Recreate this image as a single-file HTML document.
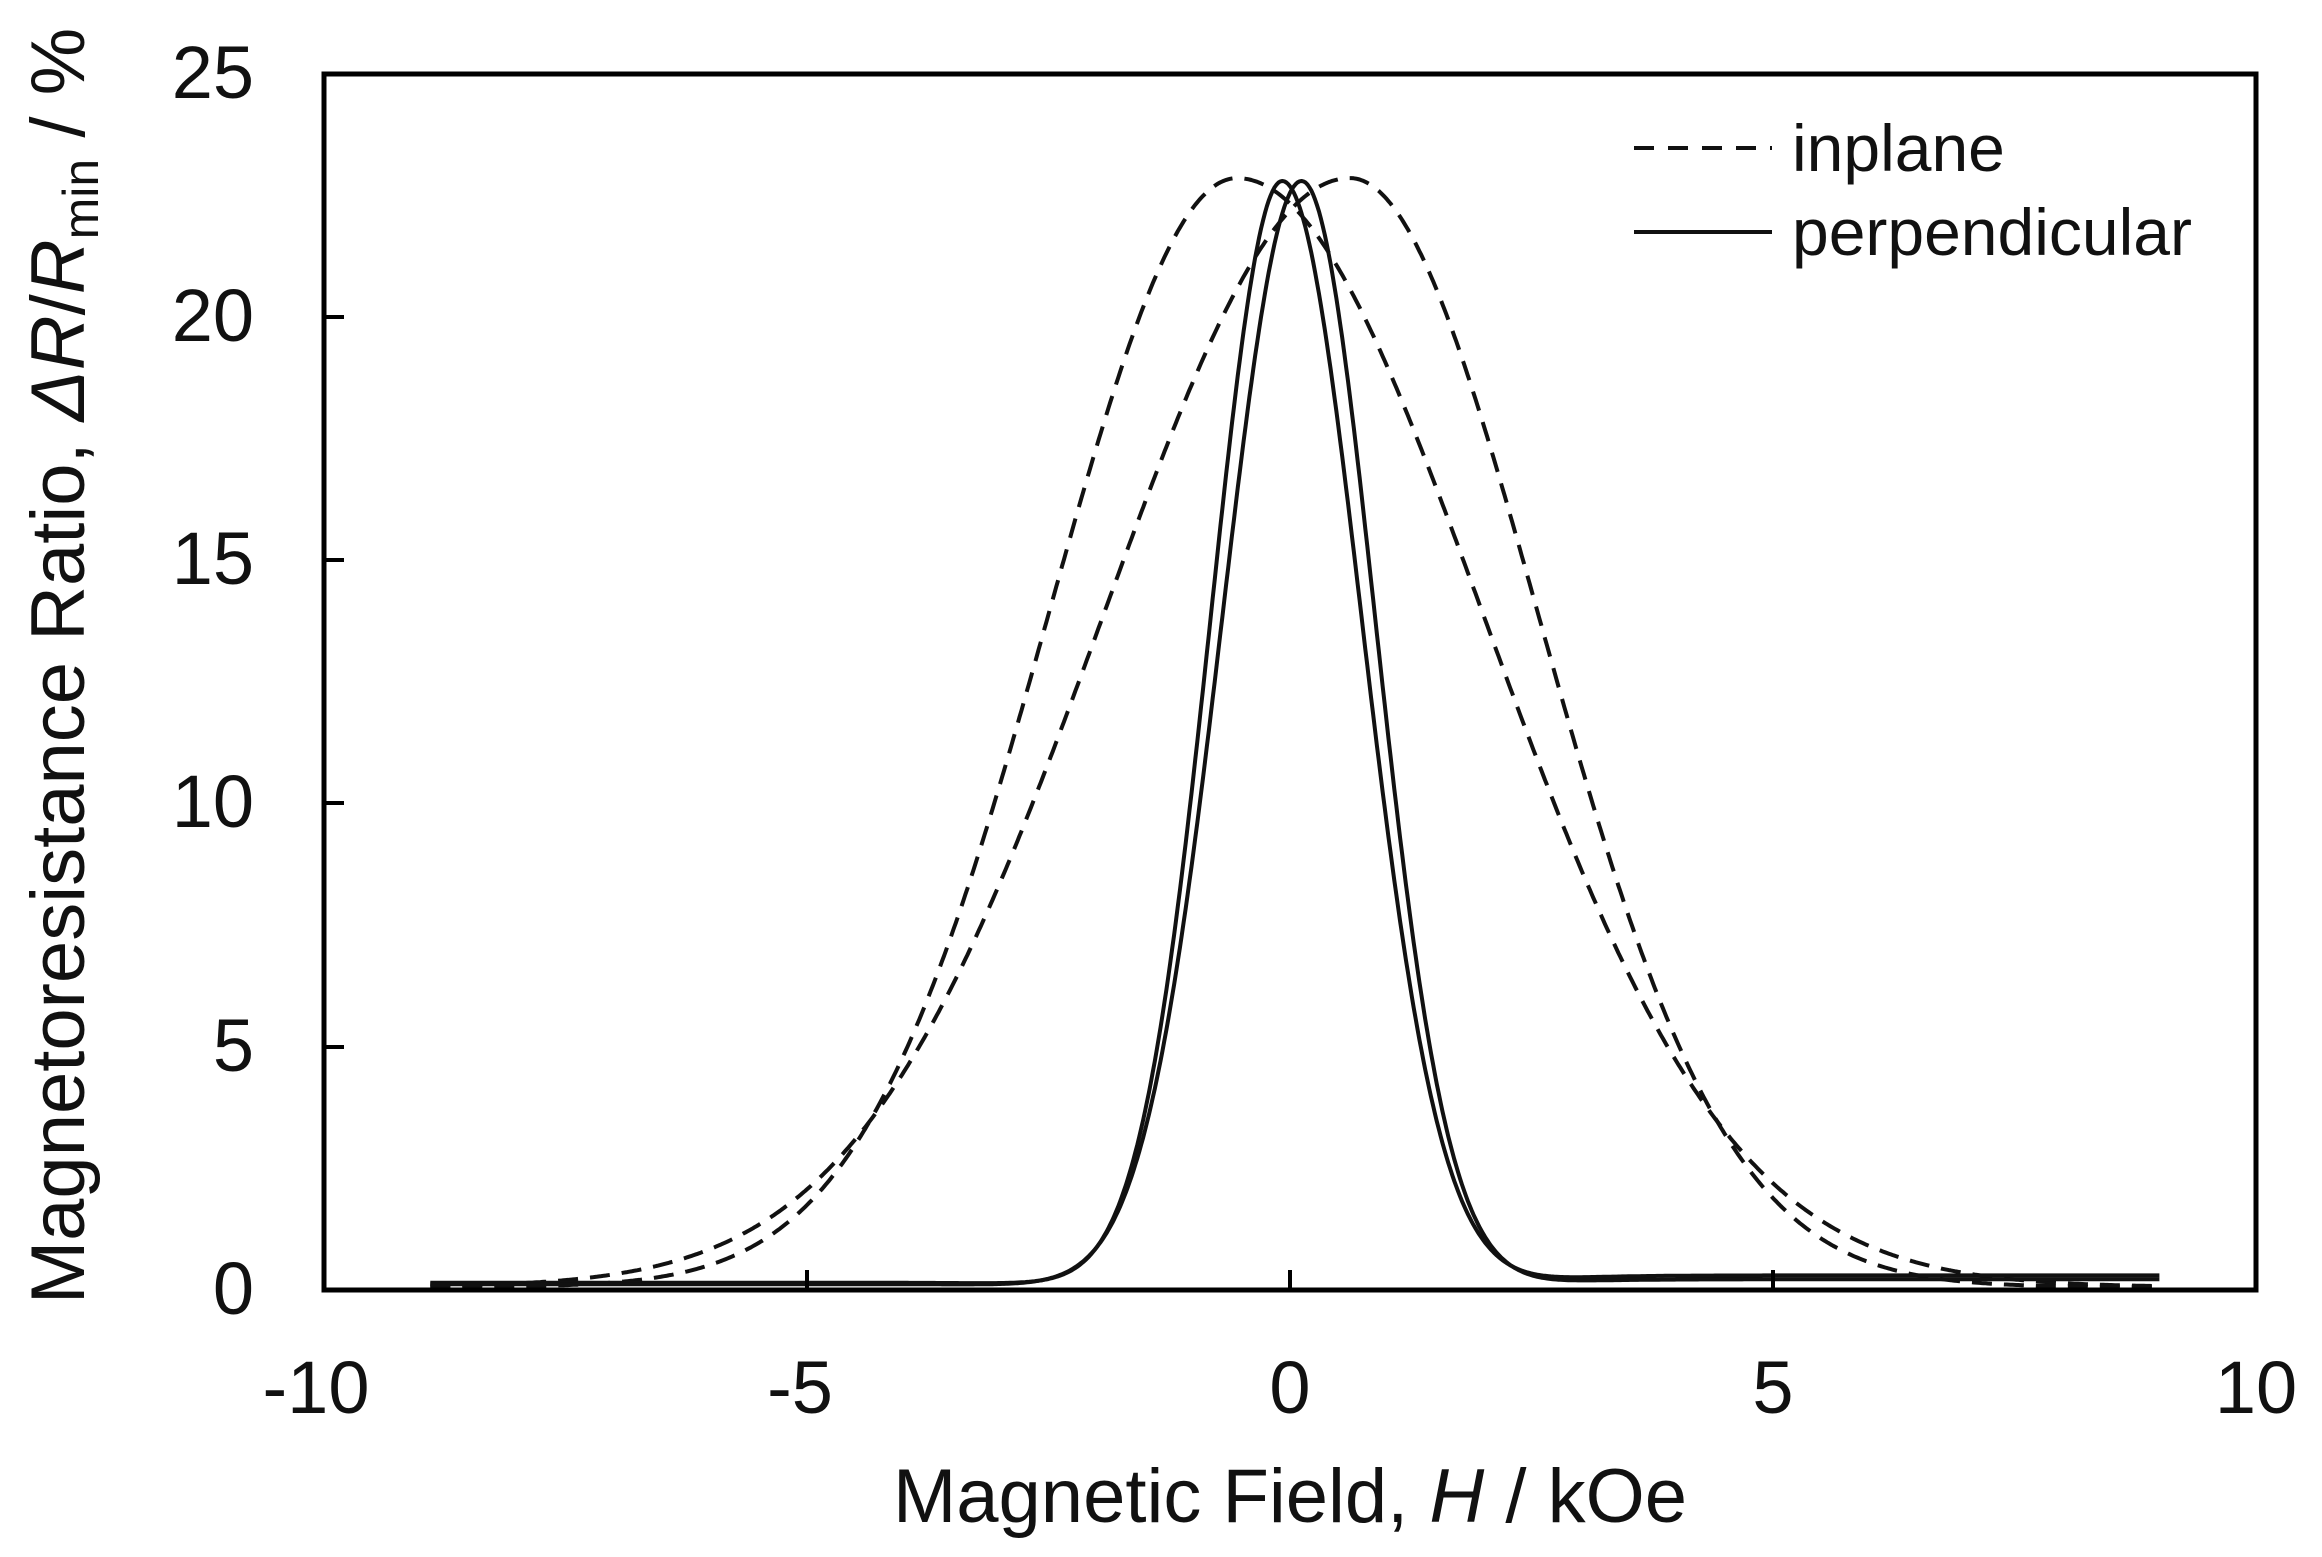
<!DOCTYPE html>
<html><head><meta charset="utf-8"><style>
html,body{margin:0;padding:0;background:#fff;}
svg{display:block;}
text{font-family:"Liberation Sans",Arial,sans-serif;fill:#111;}
</style></head><body>
<svg id="s" width="2322" height="1557" viewBox="0 0 2322 1557" xmlns="http://www.w3.org/2000/svg">
<g id="curves" fill="none" stroke="#111" stroke-width="4" stroke-linejoin="round"></g>
<rect x="324" y="74" width="1932" height="1216" fill="none" stroke="#000" stroke-width="5"/>
<g stroke="#000" stroke-width="4">
<line x1="807" y1="1290" x2="807" y2="1270"/>
<line x1="1290" y1="1290" x2="1290" y2="1270"/>
<line x1="1773" y1="1290" x2="1773" y2="1270"/>
<line x1="324" y1="1047" x2="344" y2="1047"/>
<line x1="324" y1="803" x2="344" y2="803"/>
<line x1="324" y1="560" x2="344" y2="560"/>
<line x1="324" y1="317" x2="344" y2="317"/>
</g>
<g font-size="74" text-anchor="end">
<text x="254" y="1314">0</text>
<text x="254" y="1071">5</text>
<text x="254" y="827">10</text>
<text x="254" y="584">15</text>
<text x="254" y="341">20</text>
<text x="254" y="98">25</text>
</g>
<g font-size="74" text-anchor="middle">
<text x="316" y="1413">-10</text>
<text x="800" y="1413">-5</text>
<text x="1290" y="1413">0</text>
<text x="1773" y="1413">5</text>
<text x="2256" y="1413">10</text>
</g>
<text x="1290" y="1522" font-size="76" text-anchor="middle">Magnetic Field, <tspan font-style="italic">H</tspan> / kOe</text>
<text transform="translate(84,666) rotate(-90)" font-size="76" text-anchor="middle">Magnetoresistance Ratio, <tspan font-style="italic">ΔR</tspan>/<tspan font-style="italic">R</tspan><tspan font-size="50" dy="14">min</tspan><tspan dy="-14"> / %</tspan></text>
<line x1="1634" y1="148" x2="1772" y2="148" stroke="#111" stroke-width="4" stroke-dasharray="20,14"/>
<line x1="1634" y1="232" x2="1772" y2="232" stroke="#111" stroke-width="4"/>
<text x="1792" y="171" font-size="66">inplane</text>
<text x="1792" y="255" font-size="66">perpendicular</text>
</svg>
<script>
(function(){
var g=document.getElementById('curves');
function X(h){return 1290+h*96.6;}
function Y(v){return 1290-v*48.64;}
function path(f,dash){
  var d='';
  for(var h=-8.9;h<=9.0001;h+=0.02){
    var v=f(h);
    d+=(d?'L':'M')+X(h).toFixed(1)+','+Y(v).toFixed(1);
  }
  var p=document.createElementNS('http://www.w3.org/2000/svg','path');
  p.setAttribute('d',d);
  if(dash)p.setAttribute('stroke-dasharray','20,12');
  g.appendChild(p);
}
function gsd(h,c,sl,sr,A){var d=h-c;var s=d<0?sl:sr;return A*Math.exp(-d*d/(2*s*s));}
function sig(x){return 1/(1+Math.exp(-x));}
// inplane
path(function(h){return 0.06+gsd(h,-0.55,1.95,2.55,22.8);},true);
path(function(h){return 0.06+gsd(h,0.62,2.55,1.95,22.8);},true);
// perpendicular
path(function(h){var b=0.15+0.15*sig((h-2.5)*3);return b*(1-Math.exp(-h*h/4))+gsd(h,-0.08,0.74,0.82,22.8);},false);
path(function(h){var b=0.12+0.1*sig((h-2.5)*3);return b*(1-Math.exp(-h*h/4))+gsd(h,0.12,0.82,0.76,22.8);},false);
})();
</script>
</body></html>
